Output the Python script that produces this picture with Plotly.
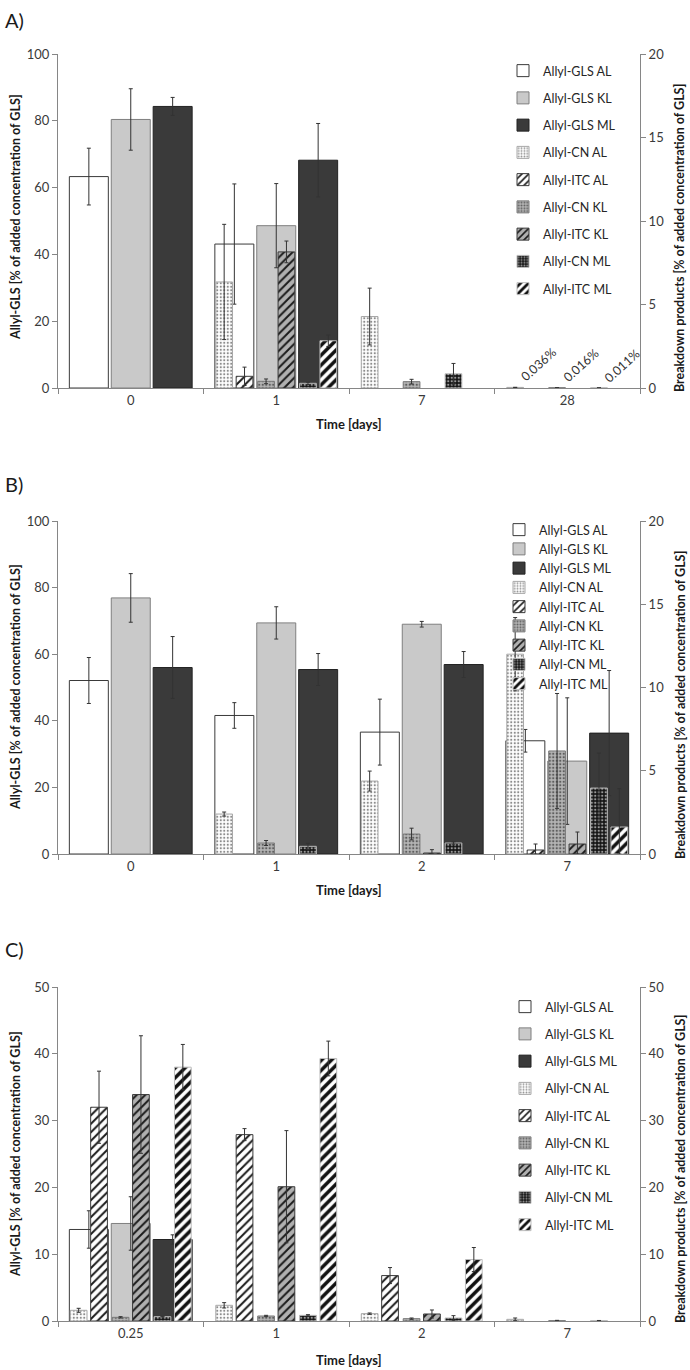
import plotly.graph_objects as go
from plotly.subplots import make_subplots

W, H = 690, 1370
FONT = "Lato"

# ---------------- data ----------------
series_names = ["Allyl-GLS AL", "Allyl-GLS KL", "Allyl-GLS ML",
                "Allyl-CN AL", "Allyl-ITC AL", "Allyl-CN KL",
                "Allyl-ITC KL", "Allyl-CN ML", "Allyl-ITC ML"]

# Panel A
cats_A = ["0", "1", "7", "28"]
gls_al_A = [63.3, 43.1, None, None]
gls_al_A_err = [8.5, 18.0, 0, 0]
gls_kl_A = [80.4, 48.6, None, None]
gls_kl_A_err = [9.2, 12.6, 0, 0]
gls_ml_A = [84.3, 68.2, None, None]
gls_ml_A_err = [2.7, 11.0, 0, 0]
cn_al_A = [None, 6.35, 4.28, 0.036]
cn_al_A_err = [0, 3.45, 1.7, 0]
itc_al_A = [None, 0.70, None, None]
itc_al_A_err = [0, 0.55, 0, 0]
cn_kl_A = [None, 0.40, 0.38, 0.016]
cn_kl_A_err = [0, 0.14, 0.14, 0]
itc_kl_A = [None, 8.15, None, None]
itc_kl_A_err = [0, 0.65, 0, 0]
cn_ml_A = [None, 0.28, 0.85, 0.011]
cn_ml_A_err = [0, 0.07, 0.62, 0]
itc_ml_A = [None, 2.83, None, None]
itc_ml_A_err = [0, 0.34, 0, 0]

# Panel B
cats_B = ["0", "1", "2", "7"]
gls_al_B = [52.1, 41.6, 36.6, 34.0]
gls_al_B_err = [6.9, 3.85, 9.9, 3.4]
gls_kl_B = [76.9, 69.4, 69.0, 27.9]
gls_kl_B_err = [7.3, 4.85, 0.85, 19.0]
gls_ml_B = [56.0, 55.4, 56.9, 36.3]
gls_ml_B_err = [9.3, 4.8, 3.9, 18.8]
cn_al_B = [None, 2.40, 4.38, 12.0]
cn_al_B_err = [0, 0.12, 0.6, 2.2]
itc_al_B = [None, None, None, 0.24]
itc_al_B_err = [0, 0, 0, 0.36]
cn_kl_B = [None, 0.66, 1.2, 6.19]
cn_kl_B_err = [0, 0.15, 0.35, 3.45]
itc_kl_B = [None, None, 0.06, 0.6]
itc_kl_B_err = [0, 0, 0.2, 0.72]
cn_ml_B = [None, 0.46, 0.66, 3.96]
cn_ml_B_err = [0, 0.18, 0.07, 2.1]
itc_ml_B = [None, None, None, 1.62]
itc_ml_B_err = [0, 0, 0, 2.3]

# Panel C
cats_C = ["0.25", "1", "2", "7"]
gls_al_C = [13.7, None, None, None]
gls_al_C_err = [2.8, 0, 0, 0]
gls_kl_C = [14.6, None, None, None]
gls_kl_C_err = [4.0, 0, 0, 0]
gls_ml_C = [12.2, None, None, None]
gls_ml_C_err = [0.7, 0, 0, 0]
cn_al_C = [1.6, 2.35, 1.1, 0.25]
cn_al_C_err = [0.3, 0.4, 0.1, 0.2]
itc_al_C = [32.0, 27.9, 6.8, None]
itc_al_C_err = [5.4, 0.9, 1.2, 0]
cn_kl_C = [0.55, 0.75, 0.35, 0.05]
cn_kl_C_err = [0.1, 0.1, 0.1, 0.05]
itc_kl_C = [33.9, 20.1, 1.05, None]
itc_kl_C_err = [8.8, 8.4, 0.6, 0]
cn_ml_C = [0.65, 0.85, 0.45, 0.05]
cn_ml_C_err = [0.05, 0.1, 0.35, 0.03]
itc_ml_C = [38.0, 39.3, 9.2, None]
itc_ml_C_err = [3.4, 2.6, 1.8, 0]

# small labels on day 28 (panel A)
labels_A_28 = ["0.036%", "0.016%", "0.011%"]

# ---------------- styles ----------------
WIDE_W, WIDE_STEP = 0.268, 0.288
NAR_W, NAR_SPLIT = 0.115, 0.07

styles = [
    dict(color="white", line="#3a3a3a", pattern=None),
    dict(color="#c9c9c9", line="#7f7f7f", pattern=None),
    dict(color="#3a3a3a", line="#222222", pattern=None),
    dict(color="#e0e0e0", line="#a8a8a8", pattern=dict(shape=".", fgcolor="#8c8c8c", bgcolor="#ffffff", size=3.5, solidity=0.3)),
    dict(color="white", line="#3a3a3a", pattern=dict(shape="/", fgcolor="#1a1a1a", bgcolor="#ffffff", size=6, solidity=0.33)),
    dict(color="#a8a8a8", line="#7a7a7a", pattern=dict(shape=".", fgcolor="#5e5e5e", bgcolor="#b4b4b4", size=3.5, solidity=0.35)),
    dict(color="#a8a8a8", line="#3a3a3a", pattern=dict(shape="/", fgcolor="#1a1a1a", bgcolor="#b0b0b0", size=6, solidity=0.33)),
    dict(color="#222222", line="#bdbdbd", pattern=dict(shape=".", fgcolor="#9a9a9a", bgcolor="#141414", size=3.5, solidity=0.35)),
    dict(color="white", line="#bdbdbd", pattern=dict(shape="/", fgcolor="#111111", bgcolor="#ffffff", size=7, solidity=0.5)),
]

def geom(i):
    if i < 3:
        c = (i - 1) * WIDE_STEP
        return c - WIDE_W / 2, WIDE_W
    k = i - 3
    pair = k // 2
    c = (pair - 1) * WIDE_STEP + (-NAR_SPLIT if k % 2 == 0 else NAR_SPLIT)
    return c - NAR_W / 2, NAR_W

fig = make_subplots(rows=3, cols=1, specs=[[{"secondary_y": True}]] * 3)

panels = [
    ("A", cats_A, [gls_al_A, gls_kl_A, gls_ml_A, cn_al_A, itc_al_A, cn_kl_A, itc_kl_A, cn_ml_A, itc_ml_A],
     [gls_al_A_err, gls_kl_A_err, gls_ml_A_err, cn_al_A_err, itc_al_A_err, cn_kl_A_err, itc_kl_A_err, cn_ml_A_err, itc_ml_A_err],
     "legend"),
    ("B", cats_B, [gls_al_B, gls_kl_B, gls_ml_B, cn_al_B, itc_al_B, cn_kl_B, itc_kl_B, cn_ml_B, itc_ml_B],
     [gls_al_B_err, gls_kl_B_err, gls_ml_B_err, cn_al_B_err, itc_al_B_err, cn_kl_B_err, itc_kl_B_err, cn_ml_B_err, itc_ml_B_err],
     "legend2"),
    ("C", cats_C, [gls_al_C, gls_kl_C, gls_ml_C, cn_al_C, itc_al_C, cn_kl_C, itc_kl_C, cn_ml_C, itc_ml_C],
     [gls_al_C_err, gls_kl_C_err, gls_ml_C_err, cn_al_C_err, itc_al_C_err, cn_kl_C_err, itc_kl_C_err, cn_ml_C_err, itc_ml_C_err],
     "legend3"),
]

for r, (pname, cats, vals, errs, leg) in enumerate(panels, start=1):
    for i, name in enumerate(series_names):
        st = styles[i]
        off, wd = geom(i)
        v = vals[i]
        e = errs[i]
        eminus = [min(ee, vv) if vv is not None else 0 for ee, vv in zip(e, v)]
        marker = dict(color=st["color"], line=dict(color=st["line"], width=1))
        if st["pattern"] is not None:
            marker["pattern"] = dict(fillmode="replace", **st["pattern"])
        fig.add_trace(
            go.Bar(
                x=cats, y=v, name=name, offset=off, width=wd,
                marker=marker,
                error_y=dict(type="data", array=e, arrayminus=eminus, symmetric=False,
                             color="#333333", thickness=1, width=2),
                legend=leg, legendgroup=f"{pname}{i}",
                showlegend=True,
            ),
            row=r, col=1, secondary_y=(i >= 3),
        )

# ---------------- layout ----------------
def py(p):
    return 1 - p / H

def px(p):
    return p / W

X0, X1 = 58, 640
panel_px = [(54, 388), (521, 854), (987, 1321)]
left_ranges = [(0, 100, 20), (0, 100, 20), (0, 50, 10)]
right_ranges = [(0, 20, 5), (0, 20, 5), (0, 50, 10)]

AX_COL = "#868686"
TICK_FONT = dict(family=FONT, size=13, color="#3a3a3a")

layout_upd = dict(
    width=W, height=H, margin=dict(l=0, r=0, t=0, b=0, pad=0, autoexpand=False),
    plot_bgcolor="white", paper_bgcolor="white", barmode="overlay",
    font=dict(family=FONT, color="#262626"),
)
for k in range(3):
    xa = "xaxis" if k == 0 else f"xaxis{k+1}"
    ya = "yaxis" if k == 0 else f"yaxis{2*k+1}"
    ya2 = f"yaxis{2*k+2}"
    top, bot = panel_px[k]
    lo, hi, dt = left_ranges[k]
    rlo, rhi, rdt = right_ranges[k]
    layout_upd[xa] = dict(domain=[px(X0), px(X1)], type="category", range=[-0.5, 3.5],
                          showline=True, linecolor=AX_COL, linewidth=1, ticks="outside",
                          tickson="boundaries", ticklen=5, tickcolor=AX_COL, showgrid=False,
                          zeroline=False, tickfont=TICK_FONT, automargin=False)
    layout_upd[ya] = dict(domain=[py(bot), py(top)], range=[lo, hi], dtick=dt, tick0=0,
                          showline=True, linecolor=AX_COL, linewidth=1, ticks="outside",
                          ticklen=5, tickcolor=AX_COL, showgrid=False, zeroline=False,
                          tickfont=TICK_FONT, automargin=False)
    layout_upd[ya2] = dict(range=[rlo, rhi], dtick=rdt, tick0=0,
                           showline=True, linecolor=AX_COL, linewidth=1, ticks="outside",
                           ticklen=5, tickcolor=AX_COL, showgrid=False, zeroline=False,
                           tickfont=TICK_FONT, automargin=False)

LEG_FONT = dict(family=FONT, size=12.5, color="#262626")
layout_upd["legend"] = dict(x=px(503), y=py(56), xanchor="left", yanchor="top",
                            font=LEG_FONT, tracegroupgap=8, bgcolor="rgba(0,0,0,0)")
layout_upd["legend2"] = dict(x=px(499), y=py(515), xanchor="left", yanchor="top",
                             font=LEG_FONT, tracegroupgap=0, bgcolor="rgba(0,0,0,0)")
layout_upd["legend3"] = dict(x=px(505), y=py(992), xanchor="left", yanchor="top",
                             font=LEG_FONT, tracegroupgap=8, bgcolor="rgba(0,0,0,0)")
fig.update_layout(**layout_upd)

# ---------------- text annotations ----------------
ann = []
TITLE_FONT = dict(family=FONT, size=12.5, color="#1a1a1a")
panel_letters = ["A)", "B)", "C)"]
letter_top = [6, 470, 935]
left_title_y = [217, 687, 1154]
right_title_y = [238, 705, 1169]
xtitle_y = [424, 890, 1360]
for k in range(3):
    ann.append(dict(text=panel_letters[k], x=px(3), y=py(letter_top[k]), xref="paper", yref="paper",
                    xanchor="left", yanchor="top", showarrow=False,
                    font=dict(family=FONT, size=20, color="#1a1a1a")))
    ann.append(dict(text="<b>Allyl-GLS [% of added concentration of GLS]</b>", x=px(15),
                    y=py(left_title_y[k]), xref="paper", yref="paper", textangle=-90,
                    xanchor="center", yanchor="middle", showarrow=False, font=TITLE_FONT))
    ann.append(dict(text="<b>Breakdown products [% of added concentration of GLS]</b>", x=px(680),
                    y=py(right_title_y[k]), xref="paper", yref="paper", textangle=-90,
                    xanchor="center", yanchor="middle", showarrow=False, font=TITLE_FONT))
    ann.append(dict(text="<b>Time [days]</b>", x=px((X0 + X1) / 2), y=py(xtitle_y[k]),
                    xref="paper", yref="paper", xanchor="center", yanchor="middle",
                    showarrow=False, font=dict(family=FONT, size=13, color="#1a1a1a")))

cn_vals_28 = [cn_al_A[3], cn_kl_A[3], cn_ml_A[3]]
for j, (lab, v) in enumerate(zip(labels_A_28, cn_vals_28)):
    off, wd = geom(3 + 2 * j)
    ann.append(dict(text=lab, x=3 + off + wd / 2, y=v, xref="x", yref="y2",
                    xanchor="left", yanchor="bottom", textangle=-42, showarrow=False,
                    font=dict(family=FONT, size=12.5, color="#333333")))

fig.update_layout(annotations=ann)

fig.write_html("out.html", config={"displayModeBar": False},
               post_script="document.body.style.margin='0';")
